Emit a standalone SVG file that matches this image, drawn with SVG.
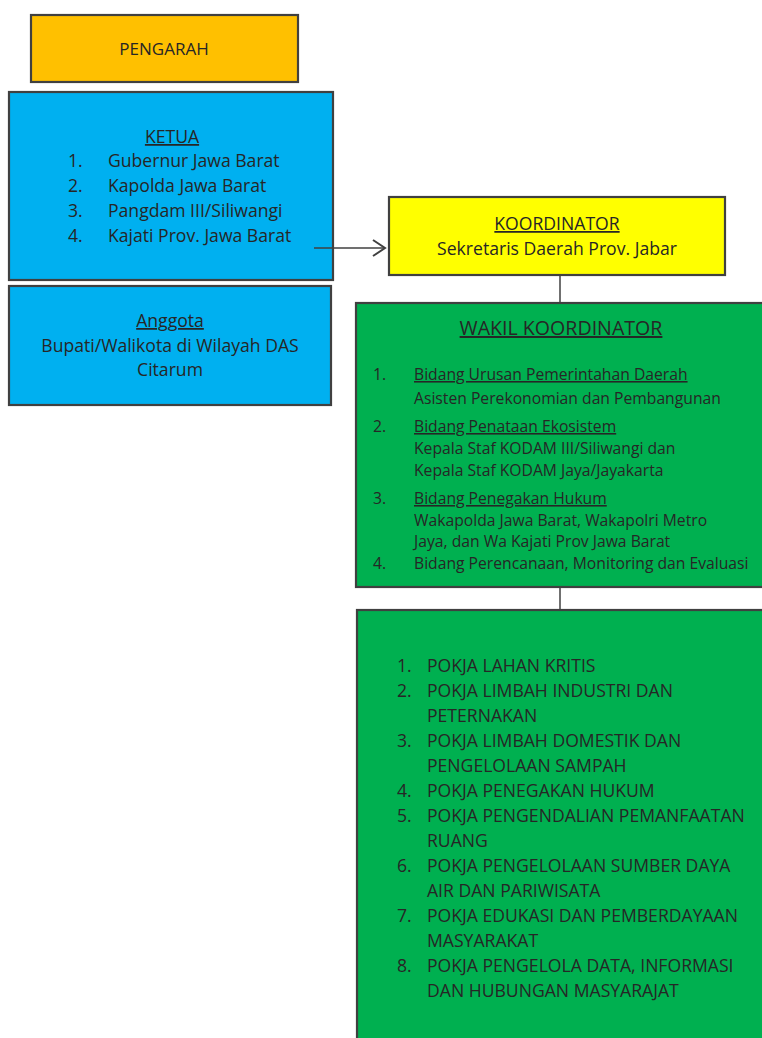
<svg xmlns="http://www.w3.org/2000/svg" width="762" height="1038" viewBox="0 0 762 1038">
<style>
.box{stroke:#404040;stroke-width:2.2}
text{font-family:"Open Sans","Noto Sans",sans-serif;fill:#262626}
.u{text-decoration:underline}
.c{text-anchor:middle}
.con{stroke:#404040;stroke-width:1.5;fill:none}
</style>
<defs>
<marker id="arr" markerWidth="16" markerHeight="20" refX="14" refY="10" orient="auto" markerUnits="userSpaceOnUse">
<path d="M2,2 L14,10 L2,18" fill="none" stroke="#404040" stroke-width="2"/>
</marker>
</defs>
<rect width="762" height="1038" fill="#ffffff"/>
<g id="pengarah">
<rect class="box" x="31" y="15" width="267" height="67" fill="#FFC000"/>
<text class="c" x="164" y="55" font-size="17">PENGARAH</text>
</g>
<g id="ketua">
<rect class="box" x="9" y="92" width="324" height="188" fill="#00B0F0"/>
<text class="c u" x="172" y="143" font-size="17.6">KETUA</text>
<g font-size="17.6">
<text x="68" y="167">1.</text><text x="108" y="167">Gubernur Jawa Barat</text>
<text x="68" y="192">2.</text><text x="108" y="192">Kapolda Jawa Barat</text>
<text x="68" y="217">3.</text><text x="108" y="217">Pangdam III/Siliwangi</text>
<text x="68" y="242">4.</text><text x="108" y="242">Kajati Prov. Jawa Barat</text>
</g>
</g>
<g id="anggota">
<rect class="box" x="9" y="286" width="322" height="119" fill="#00B0F0"/>
<text class="c u" x="170" y="327" font-size="17.6">Anggota</text>
<text class="c" x="170" y="352" font-size="17.6">Bupati/Walikota di Wilayah DAS</text>
<text class="c" x="170" y="376" font-size="17.6">Citarum</text>
</g>
<g id="koordinator">
<rect class="box" x="389" y="197" width="336" height="78" fill="#FFFF00"/>
<text class="c u" x="557" y="230" font-size="17.6">KOORDINATOR</text>
<text class="c" x="557" y="255" font-size="17.6">Sekretaris Daerah Prov. Jabar</text>
</g>
<g id="wakil">
<rect class="box" x="356" y="303" width="410" height="284" fill="#00B050"/>
<text class="c u" x="561" y="335" font-size="19.6">WAKIL KOORDINATOR</text>
<g font-size="15.7">
<text x="373" y="380">1.</text><text class="u" x="414" y="380">Bidang Urusan Pemerintahan Daerah</text>
<text x="414" y="404">Asisten Perekonomian dan Pembangunan</text>
<text x="373" y="432">2.</text><text class="u" x="414" y="432">Bidang Penataan Ekosistem</text>
<text x="414" y="454">Kepala Staf KODAM III/Siliwangi dan</text>
<text x="414" y="476">Kepala Staf KODAM Jaya/Jayakarta</text>
<text x="373" y="504">3.</text><text class="u" x="414" y="504">Bidang Penegakan Hukum</text>
<text x="414" y="526">Wakapolda Jawa Barat, Wakapolri Metro</text>
<text x="414" y="547">Jaya, dan Wa Kajati Prov Jawa Barat</text>
<text x="373" y="569">4.</text><text x="414" y="569">Bidang Perencanaan, Monitoring dan Evaluasi</text>
</g>
</g>
<g id="pokja">
<rect class="box" x="357" y="610" width="410" height="440" fill="#00B050"/>
<g font-size="17.6">
<text x="397" y="672">1.</text><text x="427" y="672">POKJA LAHAN KRITIS</text>
<text x="397" y="697">2.</text><text x="427" y="697">POKJA LIMBAH INDUSTRI DAN</text>
<text x="427" y="722">PETERNAKAN</text>
<text x="397" y="747">3.</text><text x="427" y="747">POKJA LIMBAH DOMESTIK DAN</text>
<text x="427" y="772">PENGELOLAAN SAMPAH</text>
<text x="397" y="797">4.</text><text x="427" y="797">POKJA PENEGAKAN HUKUM</text>
<text x="397" y="822">5.</text><text x="427" y="822">POKJA PENGENDALIAN PEMANFAATAN</text>
<text x="427" y="847">RUANG</text>
<text x="397" y="872">6.</text><text x="427" y="872">POKJA PENGELOLAAN SUMBER DAYA</text>
<text x="427" y="897">AIR DAN PARIWISATA</text>
<text x="397" y="922">7.</text><text x="427" y="922">POKJA EDUKASI DAN PEMBERDAYAAN</text>
<text x="427" y="947">MASYARAKAT</text>
<text x="397" y="972">8.</text><text x="427" y="972">POKJA PENGELOLA DATA, INFORMASI</text>
<text x="427" y="997">DAN HUBUNGAN MASYARAJAT</text>
</g>
</g>
<g id="connectors">
<line class="con" x1="314" y1="248" x2="385" y2="248" marker-end="url(#arr)"/>
<line class="con" x1="560" y1="275" x2="560" y2="303"/>
<line class="con" x1="560" y1="587" x2="560" y2="610"/>
</g>
</svg>
